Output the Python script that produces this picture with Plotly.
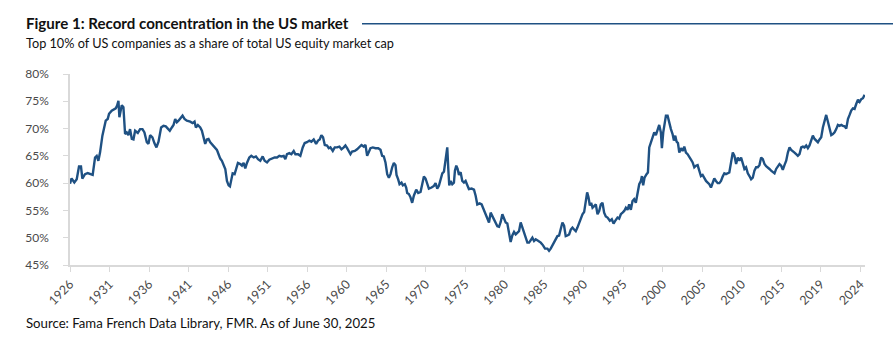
import plotly.graph_objects as go

# Chart position (tick-spaced years) and share of market cap (%)
period = [
    1926.0, 1926.2, 1926.55, 1926.85, 1927.14, 1927.39, 1927.56, 1927.9, 1928.24, 1928.66, 1928.87,
    1929.17, 1929.38, 1929.59, 1929.8, 1930.1, 1930.35, 1930.52, 1930.77, 1930.94, 1931.28, 1931.62,
    1931.79, 1931.96, 1932.13, 1932.25, 1932.38, 1932.55, 1932.76, 1932.97, 1933.18, 1933.39, 1933.6,
    1933.82, 1934.03, 1934.24, 1934.58, 1934.87, 1935.17, 1935.42, 1935.72, 1935.93, 1936.14, 1936.43,
    1936.69, 1936.94, 1937.2, 1937.53, 1937.83, 1938.12, 1938.38, 1938.63, 1938.89, 1939.1, 1939.31,
    1939.52, 1939.73,
    1940.07, 1940.24, 1940.49, 1940.79, 1941.21, 1941.51, 1941.76, 1941.93, 1942.18, 1942.48, 1942.69,
    1942.9, 1943.11, 1943.32, 1943.53, 1943.75, 1944.04, 1944.3, 1944.59, 1944.8, 1945.01, 1945.22,
    1945.48, 1945.65, 1945.86, 1946.07, 1946.24, 1946.41, 1946.58, 1946.83, 1947.0, 1947.25, 1947.55,
    1947.76, 1947.97, 1948.18, 1948.39, 1948.69, 1948.94, 1949.24, 1949.53, 1949.79, 1950.08, 1950.38,
    1950.63, 1950.93, 1951.22, 1951.56, 1951.9, 1952.2, 1952.49, 1952.75, 1953.04,
    1953.25, 1953.46, 1953.76, 1954.01, 1954.31, 1954.52, 1954.86, 1955.15, 1955.45, 1955.7, 1955.99,
    1956.29, 1956.55, 1956.84, 1957.14, 1957.39, 1957.6, 1957.81, 1958.02, 1958.24, 1958.53, 1958.74,
    1958.95, 1959.25, 1959.5, 1959.8, 1960.09, 1960.35, 1960.64, 1960.85, 1961.07, 1961.28, 1961.49,
    1961.7, 1962.04, 1962.33, 1962.63, 1962.88, 1963.18, 1963.39, 1963.6, 1963.81, 1964.02, 1964.32,
    1964.66, 1965.0, 1965.29, 1965.5, 1965.71, 1965.92, 1966.14, 1966.35, 1966.56, 1966.77, 1966.98,
    1967.19, 1967.32, 1967.53, 1967.7, 1967.95, 1968.12, 1968.37, 1968.54, 1968.67, 1968.88, 1969.09,
    1969.3, 1969.51, 1969.81, 1970.06, 1970.36, 1970.57, 1970.78, 1970.99, 1971.2, 1971.41, 1971.75,
    1972.05, 1972.26, 1972.47, 1972.68, 1972.9, 1973.11, 1973.32, 1973.44, 1973.61, 1973.74, 1973.87,
    1973.99, 1974.16, 1974.37, 1974.58, 1974.71, 1974.88, 1975.05, 1975.22, 1975.43, 1975.64, 1975.85,
    1976.06, 1976.27, 1976.48, 1976.82, 1977.12, 1977.33, 1977.54, 1977.84, 1978.09, 1978.26, 1978.43,
    1978.6, 1978.81, 1979.02, 1979.23, 1979.44, 1979.65, 1979.86, 1980.08, 1980.29, 1980.5, 1980.71,
    1980.92,
    1981.13, 1981.34, 1981.55, 1981.76, 1981.97, 1982.19, 1982.4, 1982.61, 1982.82, 1983.03, 1983.24,
    1983.45, 1983.66, 1983.88, 1984.09, 1984.3, 1984.51, 1984.72, 1984.93, 1985.27, 1985.57, 1985.86,
    1986.11, 1986.41, 1986.62, 1986.83, 1987.04, 1987.26, 1987.47, 1987.68, 1987.89, 1988.1, 1988.31,
    1988.52, 1988.73, 1988.95, 1989.16, 1989.37, 1989.58, 1989.79, 1990.0, 1990.21, 1990.42, 1990.64,
    1990.85, 1991.06, 1991.27, 1991.44, 1991.61, 1991.78, 1991.95, 1992.12, 1992.33, 1992.54, 1992.75,
    1992.96, 1993.17, 1993.38, 1993.59, 1993.8, 1994.02, 1994.31, 1994.56, 1994.78, 1994.99,
    1995.28, 1995.49, 1995.7, 1995.92, 1996.13, 1996.34, 1996.55, 1996.76, 1996.97, 1997.18, 1997.39,
    1997.6, 1997.82, 1998.03, 1998.24, 1998.37, 1998.53, 1998.7, 1998.96, 1999.13, 1999.3, 1999.51,
    1999.72, 1999.93, 2000.14, 2000.35, 2000.56, 2000.77, 2000.9, 2001.07, 2001.24, 2001.41, 2001.62,
    2001.83, 2002.04, 2002.25, 2002.42, 2002.59, 2002.76, 2002.93, 2003.1, 2003.31, 2003.52, 2003.73,
    2003.94, 2004.15, 2004.36, 2004.58, 2004.79, 2005.0, 2005.21, 2005.42, 2005.63, 2005.84, 2006.05,
    2006.27, 2006.48, 2006.69, 2006.9, 2007.11, 2007.32, 2007.53, 2007.74, 2007.96, 2008.17, 2008.38,
    2008.59, 2008.8, 2009.01, 2009.22, 2009.43,
    2009.65, 2009.87, 2010.08, 2010.29, 2010.5, 2010.71, 2010.92, 2011.13, 2011.34, 2011.55, 2011.77,
    2011.98, 2012.19, 2012.4, 2012.61, 2012.82, 2013.03, 2013.24, 2013.46, 2013.67, 2013.88, 2014.09,
    2014.3, 2014.51, 2014.72, 2014.93, 2015.15, 2015.36, 2015.57, 2015.78, 2015.99, 2016.2, 2016.41,
    2016.63, 2016.84, 2017.05, 2017.26, 2017.47, 2017.68, 2017.89, 2018.1, 2018.31, 2018.53, 2018.74,
    2018.95, 2019.16, 2019.37, 2019.58, 2019.79, 2020.0, 2020.22, 2020.43, 2020.64, 2020.85, 2021.06,
    2021.27, 2021.48, 2021.69, 2021.9, 2022.12, 2022.33, 2022.54, 2022.75, 2022.96, 2023.17, 2023.38,
    2023.6, 2023.81, 2024.02, 2024.23, 2024.44, 2024.65, 2024.86, 2025.07, 2025.28, 2025.49, 2025.71,
    2025.92, 2026.13, 2026.34, 2026.55,
]

share = [
    59.9, 60.86, 60.12, 60.7, 63.06, 63.06, 60.85, 61.65, 61.85, 61.65, 61.5,
    64.7, 65.0, 64.1, 65.6, 68.7, 70.65, 71.45, 71.76, 72.7, 73.29, 73.6,
    73.7, 74.2, 75.1, 72.07, 73.3, 74.3, 73.9, 69.0, 69.3, 68.8, 69.9,
    68.1, 68.0, 69.6, 69.2, 69.9, 69.9, 69.3, 67.5, 67.2, 68.8, 68.4,
    67.3, 66.55, 67.6, 70.2, 70.5, 70.4, 70.0, 69.6, 70.2, 70.66, 71.76,
    71.15, 71.45,
    72.07, 72.37, 71.76, 71.45, 71.27, 71.0, 71.27, 70.2, 70.66, 70.2, 69.6,
    68.1, 67.2, 68.0, 68.1, 67.5, 67.0, 66.55, 66.1, 65.3, 64.5, 64.1,
    63.2, 62.6, 60.4, 59.6, 59.4, 60.7, 61.8, 61.65, 62.45, 63.7, 63.5,
    63.2, 63.7, 62.7, 63.7, 64.7, 65.0, 64.7, 64.9, 64.4, 64.1, 64.9,
    64.1, 63.8, 64.3, 64.5, 64.7, 64.7, 65.0, 64.9, 65.0,
    64.4, 65.3, 65.5, 65.3, 65.9, 65.3, 65.3, 65.0, 66.55, 67.35, 67.5,
    67.8, 67.6, 68.0, 67.2, 67.8, 68.0, 68.8, 68.4, 67.0, 66.9, 66.4,
    66.55, 65.9, 66.55, 66.55, 66.7, 66.2, 66.55, 66.9, 66.4, 65.8, 65.3,
    65.8, 65.9, 66.2, 66.55, 67.0, 66.7, 67.0, 65.0, 65.9, 66.4, 66.55,
    66.4, 66.4, 66.1, 65.0, 64.9, 63.8, 61.65, 61.0, 61.65, 62.9, 63.7,
    63.3, 61.5, 60.7, 59.8, 60.1, 59.6, 59.8, 59.2, 58.2, 58.0, 57.4,
    56.4, 57.7, 58.8, 58.2, 58.4, 59.8, 61.2, 60.85, 60.1, 59.0, 59.2,
    59.5, 60.0, 59.0, 59.5, 61.0, 61.8, 62.1, 63.7, 65.0, 66.55, 62.6,
    59.6, 60.4, 59.8, 60.1, 62.3, 63.2, 62.6, 61.5, 62.0, 60.4, 60.1,
    60.4, 59.8, 58.9, 59.0, 58.8, 57.7, 56.1, 56.3, 56.1, 55.5, 54.9,
    54.0, 53.5, 52.8, 54.6, 54.0, 53.1, 52.8, 52.1, 52.0, 52.9, 54.3,
    53.4,
    52.8, 52.6, 51.2, 49.2, 50.4, 51.05, 50.6, 50.9, 51.2, 52.8, 51.85,
    51.05, 50.3, 49.1, 49.1, 49.7, 50.0, 49.4, 49.7, 49.4, 49.1, 48.6,
    48.0, 48.0, 47.6, 48.0, 48.6, 49.4, 49.7, 50.3, 50.4, 51.5, 52.8,
    52.2, 50.3, 50.4, 50.6, 51.5, 51.85, 51.5, 51.2, 51.85, 52.8, 53.7,
    54.3, 54.7, 56.7, 58.3, 57.4, 55.9, 56.4, 55.5, 55.8, 56.1, 54.3,
    54.9, 56.1, 56.4, 54.6, 53.9, 53.7, 53.1, 53.4, 52.6, 53.1,
    53.7, 53.5, 54.3, 54.6, 54.9, 55.5, 55.1, 56.1, 55.1, 56.7, 57.05,
    56.4, 58.0, 59.8, 60.4, 61.3, 59.6, 61.0, 61.65, 61.95, 66.55, 67.5,
    68.4, 69.3, 68.8, 69.9, 70.66, 69.3, 66.4, 69.3, 71.15, 72.37, 72.37,
    70.84, 69.9, 69.0, 67.8, 68.7, 67.6, 67.35, 65.6, 66.4, 65.9, 66.7,
    65.6, 65.3, 64.7, 64.3, 63.8, 62.9, 63.2, 63.3, 62.3, 61.3, 61.5,
    60.85, 60.4, 60.1, 59.8, 59.2, 60.1, 60.85, 60.4, 60.0, 60.0, 60.4,
    61.2, 61.8, 61.65, 61.8, 61.95,
    63.8, 65.6, 65.0, 63.5, 64.7, 64.1, 64.7, 63.5, 62.6, 62.9, 61.8,
    61.3, 60.7, 61.0, 62.3, 62.9, 62.9, 63.3, 64.7, 64.4, 63.5, 63.1,
    62.9, 62.6, 62.3, 62.1, 61.8, 62.6, 63.2, 63.5, 63.2, 62.45, 63.3,
    64.1, 65.6, 66.55, 66.1, 65.9, 65.6, 65.3, 65.0, 65.3, 66.55, 66.7,
    66.55, 66.9, 66.4, 66.9, 67.8, 68.7, 68.1, 67.8, 67.5, 68.0, 68.4,
    70.2, 71.45, 72.5, 71.3, 69.9, 68.8, 69.0, 69.3, 69.9, 70.66, 70.5,
    70.66, 70.5, 70.4, 70.0, 71.76, 72.5, 73.3, 73.7, 73.6, 74.5, 75.3,
    74.9, 75.4, 75.56, 76.2,
]

tick_positions = [1926 + 5 * i for i in range(21)]
tick_labels = ["1926", "1931", "1936", "1941", "1946", "1951", "1956", "1960", "1965", "1970",
               "1975", "1980", "1985", "1990", "1995", "2000", "2005", "2010", "2015", "2019", "2024"]
y_ticks = [45, 50, 55, 60, 65, 70, 75, 80]
y_labels = [f"{v}%" for v in y_ticks]

LINE = "#1f5183"
AXIS = "#d9d9d9"
TICKTXT = "#4a4a4a"
FONT = "Lato"

fig = go.Figure()
fig.add_trace(go.Scatter(
    x=period, y=share, mode="lines",
    line=dict(color=LINE, width=2.4),
    hoverinfo="skip", showlegend=False,
))

L, R, T, B = 70, 28, 73.5, 86
W, H = 893, 351
pw = W - L - R
ph = H - T - B

def px_x(px):
    return (px - L) / pw

def px_y(py):
    return (H - B - py) / ph

fig.update_layout(
    width=W, height=H,
    margin=dict(l=L, r=R, t=T, b=B, pad=0),
    paper_bgcolor="white", plot_bgcolor="white",
    font=dict(family=FONT, color="#000000"),
    xaxis=dict(
        range=[1926, 2026.6], tickmode="array", tickvals=tick_positions, ticktext=tick_labels,
        tickangle=-45, ticks="outside", ticklen=5, tickcolor=AXIS, tickwidth=1,
        showline=True, linecolor=AXIS, linewidth=2, showgrid=False, zeroline=False,
        tickfont=dict(size=12.5, color=TICKTXT, family=FONT),
    ),
    yaxis=dict(
        range=[45, 80], tickmode="array", tickvals=y_ticks, ticktext=y_labels,
        ticks="outside", ticklen=5, tickcolor=AXIS, tickwidth=1, ticklabelstandoff=12,
        showline=True, linecolor=AXIS, linewidth=1.5, showgrid=False, zeroline=False,
        tickfont=dict(size=12, color=TICKTXT, family=FONT),
    ),
    annotations=[
        dict(text="<b>Figure 1: Record concentration in the US market</b>", x=px_x(24), y=px_y(22),
             xref="paper", yref="paper", xanchor="left", yanchor="middle", showarrow=False,
             font=dict(size=15.1, color="#111111", family=FONT)),
        dict(text="Top 10% of US companies as a share of total US equity market cap", x=px_x(24), y=px_y(42.5),
             xref="paper", yref="paper", xanchor="left", yanchor="middle", showarrow=False,
             font=dict(size=12.7, color="#111111", family=FONT)),
        dict(text="Source: Fama French Data Library, FMR. As of June 30, 2025", x=px_x(24), y=px_y(323),
             xref="paper", yref="paper", xanchor="left", yanchor="middle", showarrow=False,
             font=dict(size=13.2, color="#111111", family=FONT)),
    ],
    shapes=[
        dict(type="line", xref="paper", yref="paper", x0=px_x(362), x1=px_x(893), y0=px_y(23), y1=px_y(23),
             line=dict(color=LINE, width=1.5)),
    ],
)

fig.write_html("out.html")
